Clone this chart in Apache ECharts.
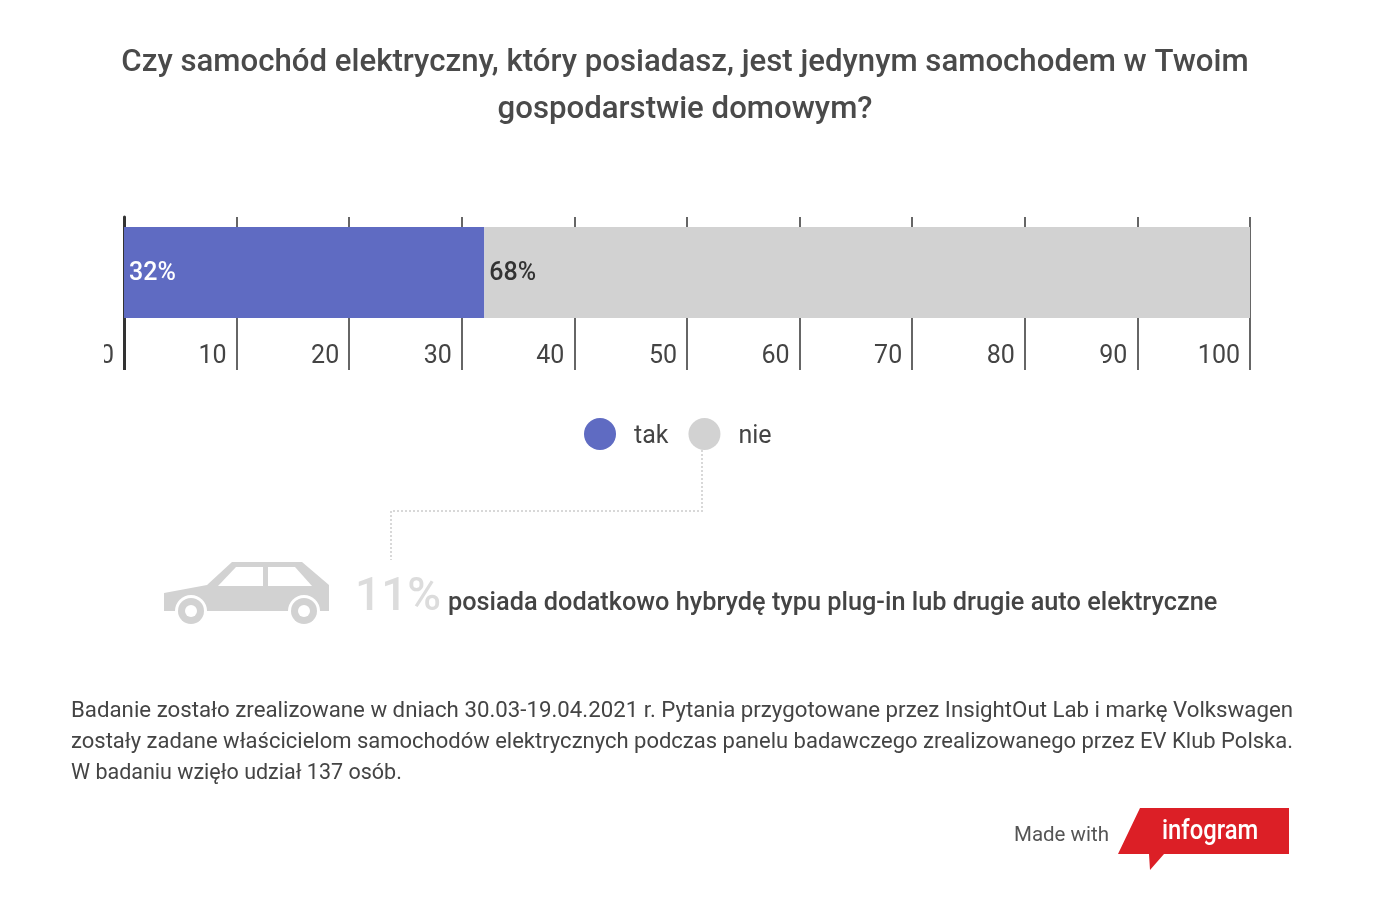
<!DOCTYPE html>
<html>
<head>
<meta charset="utf-8">
<title>Samochód elektryczny</title>
<script src="https://cdn.jsdelivr.net/npm/echarts@6/dist/echarts.min.js"></script>
<style>
  html, body { margin: 0; padding: 0; background: #fff; }
  #chart { width: 1400px; height: 921px; }
</style>
</head>
<body>
<div id="chart"></div>
<script>
// dane
const categories = ['gospodarstwo'];
const seriesNames = ['tak', 'nie'];
const takValues = [32];
const nieValues = [68];
const tickStep = 10;
const titleLines = [
    'Czy samochód elektryczny, który posiadasz, jest jedynym samochodem w Twoim',
    'gospodarstwie domowym?'
];
const noteLines = [
    'Badanie zostało zrealizowane w dniach 30.03-19.04.2021 r. Pytania przygotowane przez InsightOut Lab i markę Volkswagen',
    'zostały zadane właścicielom samochodów elektrycznych podczas panelu badawczego zrealizowanego przez EV Klub Polska.',
    'W badaniu wzięło udział 137 osób.'
];

const FONT = 'Roboto, sans-serif';
const BLUE = '#5f6bc2';
const GREY = '#d2d2d2';
const TEXT = '#444';

let chart = echarts.init(document.getElementById('chart'));

// samochód i dopisek pod legendą
const carBody = {
    type: 'polygon',
    shape: { points: [[164, 593], [207, 585], [232, 562], [302, 562], [329, 585], [329, 611], [164, 611]] },
    style: { fill: GREY }
};
const carWindows = [
    [[218, 586], [236, 567], [263, 567], [263, 586]],
    [[268, 567], [295, 567], [312, 586], [268, 586]]
].map(points => ({ type: 'polygon', shape: { points }, style: { fill: '#fff' } }));
const carWheels = [191, 304].flatMap(cx => [
    { type: 'circle', shape: { cx, cy: 611, r: 16 }, style: { fill: '#fff' } },
    { type: 'circle', shape: { cx, cy: 611, r: 13 }, style: { fill: GREY } },
    { type: 'circle', shape: { cx, cy: 611, r: 6 }, style: { fill: '#fff' } }
]);

// tekst przypisu jest wyjustowany, więc dwie pierwsze linie rozciągamy do pełnej szerokości
const noteFont = '21.5px ' + FONT;
const noteWidth = 1222;
const measure = document.createElement('canvas').getContext('2d');
measure.font = noteFont;
const noteElements = noteLines.map((line, i) => ({
    type: 'text',
    x: 71,
    y: 712 + i * 31,
    scaleX: i < noteLines.length - 1 ? noteWidth / measure.measureText(line).width : 1,
    style: { text: line, font: noteFont, fill: TEXT, textVerticalAlign: 'middle' }
}));

let option = {
    animation: false,
    backgroundColor: '#fff',
    title: {
        text: titleLines.join('\n'),
        left: 680,
        top: 35,
        textAlign: 'center',
        textStyle: { fontFamily: FONT, fontSize: 31.2, fontWeight: 500, color: '#4a4a4a', lineHeight: 47 }
    },
    legend: {
        left: 579,
        top: 413,
        itemWidth: 32,
        itemHeight: 32,
        itemGap: 20,
        icon: 'circle',
        data: seriesNames,
        formatter: name => '{t|' + name + '}',
        textStyle: {
            rich: { t: { fontFamily: FONT, fontSize: 25, color: TEXT, padding: [6, 0, 0, 13] } }
        }
    },
    grid: { left: 124, top: 217, width: 1126, height: 111 },
    xAxis: [
        {
            type: 'value',
            min: 0,
            max: 100,
            interval: tickStep,
            position: 'bottom',
            axisLine: { show: false },
            axisTick: { show: true, length: 42, lineStyle: { color: '#666', width: 2 } },
            splitLine: { show: true, lineStyle: { color: '#666', width: 2 } },
            axisLabel: {
                margin: 16,
                align: 'right',
                padding: [0, 10, 0, 0],
                fontFamily: FONT,
                fontSize: 25,
                color: TEXT,
                showMinLabel: true,
                showMaxLabel: true
            }
        },
        {
            // ciemna kreska przy zerze
            type: 'value',
            min: 0,
            max: 100,
            position: 'bottom',
            axisLine: { show: false },
            axisLabel: { show: false },
            splitLine: { show: false },
            axisTick: { show: true, customValues: [0], length: 42, lineStyle: { color: '#333', width: 3 } }
        }
    ],
    yAxis: {
        type: 'category',
        data: categories,
        axisLine: { show: true, lineStyle: { color: '#333', width: 3 } },
        axisTick: { show: false },
        axisLabel: { show: false }
    },
    series: [
        {
            name: seriesNames[0],
            type: 'bar',
            stack: 'razem',
            barWidth: 91,
            data: takValues,
            itemStyle: { color: BLUE },
            label: { show: true, position: 'insideLeft', distance: 5, offset: [0, 1], formatter: '{c}%', fontFamily: FONT, fontSize: 25, fontWeight: 500, color: '#fff' }
        },
        {
            name: seriesNames[1],
            type: 'bar',
            stack: 'razem',
            barWidth: 91,
            data: nieValues,
            itemStyle: { color: GREY },
            label: { show: true, position: 'insideLeft', distance: 5, offset: [0, 1], formatter: '{c}%', fontFamily: FONT, fontSize: 25, fontWeight: 500, color: '#333' }
        }
    ],
    graphic: {
        elements: [
            // przycięte zero z lewej strony, jak w oryginale
            { type: 'rect', z: 100, shape: { x: 90, y: 340, width: 14, height: 30 }, style: { fill: '#fff' } },
            {
                type: 'polyline',
                shape: { points: [[702, 450], [702, 511], [391, 511], [391, 560]] },
                style: { stroke: '#d8d8d8', lineWidth: 2, lineDash: [2, 2], fill: null }
            },
            carBody,
            ...carWindows,
            ...carWheels,
            {
                type: 'text', x: 355, y: 598,
                style: { text: '11%', font: '500 46px ' + FONT, fill: '#dcdcdc', textVerticalAlign: 'middle' }
            },
            {
                type: 'text', x: 448, y: 604,
                style: { text: 'posiada dodatkowo hybrydę typu plug-in lub drugie auto elektryczne', font: '500 25.3px ' + FONT, fill: TEXT, textVerticalAlign: 'middle' }
            },
            ...noteElements,
            {
                type: 'text', x: 1014, y: 836,
                style: { text: 'Made with', font: '20.5px ' + FONT, fill: '#555', textVerticalAlign: 'middle' }
            },
            {
                type: 'polygon',
                shape: { points: [[1140, 808], [1289, 808], [1289, 854], [1164, 854], [1150, 870], [1149, 854], [1118, 854]] },
                style: { fill: '#dc1f26' }
            },
            {
                type: 'text', x: 1162, y: 832, scaleX: 0.85,
                style: { text: 'infogram', font: '500 28px ' + FONT, fill: '#fff', textVerticalAlign: 'middle' }
            }
        ]
    }
};

chart.setOption(option);
</script>
</body>
</html>
